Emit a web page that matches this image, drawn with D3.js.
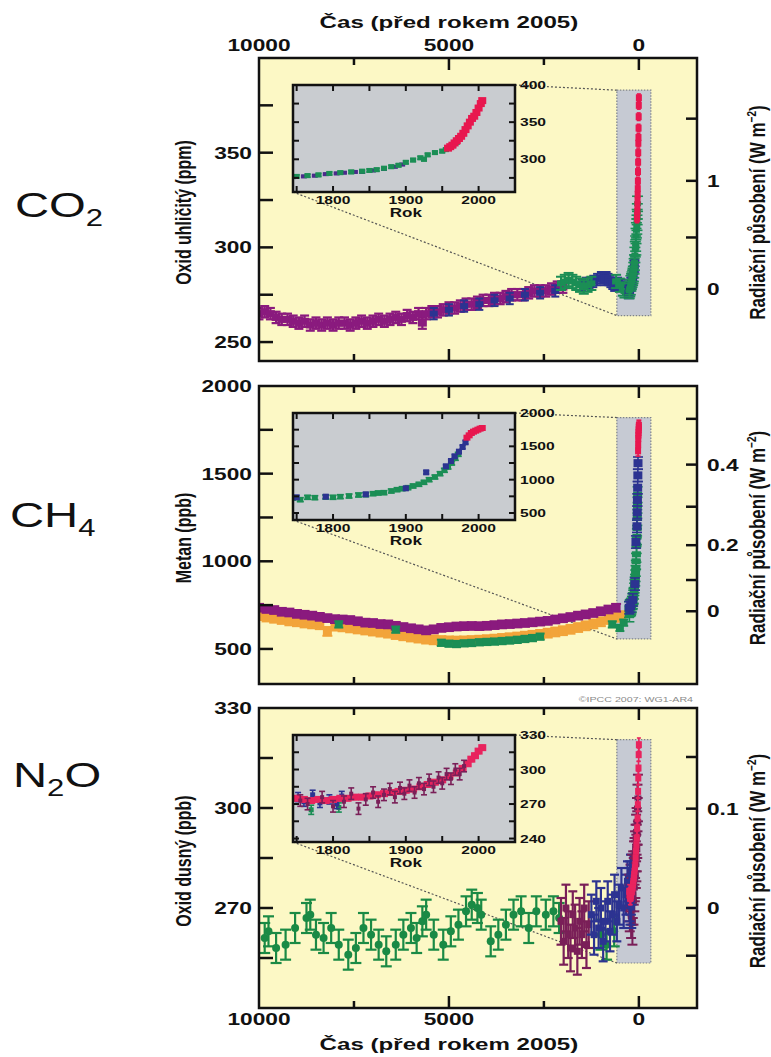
<!DOCTYPE html>
<html>
<head>
<meta charset="utf-8">
<script src="https://cdn.jsdelivr.net/npm/d3@7"></script>
<style>
  body { margin: 0; background: #fff; }
  svg text { font-family: "Liberation Sans", Arial, sans-serif; fill: #111; }
</style>
</head>
<body>
<svg id="chart" width="771" height="1057"></svg>
<script>
// values (years before 2005 for the big panels, calendar years for the insets)

const mainYearTicks = [10000, 7500, 5000, 2500, 0];
const mainYearLabels = [10000, 5000, 0];
const insetYearTicks = [1750, 1800, 1850, 1900, 1950, 2000];
const insetYearLabels = [1800, 1900, 2000];

// CO2 (ppm)
const co2Ticks = [250, 275, 300, 325, 350, 375];
const co2Labels = [250, 300, 350];
const co2ForcingTicks = [0, 0.5, 1, 1.5];
const co2ForcingLabels = [0, 1];
const co2InsetTicks = [275, 300, 325, 350, 375, 400];
const co2InsetLabels = [300, 350, 400];

const co2Purple = [[10000,265],[9850,266],[9700,265],[9550,263],[9400,262],[9250,262],[9100,261],[8950,260],[8800,261],[8650,259],[8500,260],[8350,259],[8200,260],[8050,259],[7900,260],[7750,260],[7600,259],[7450,260],[7300,261],[7150,260],[7000,261],[6850,262],[6700,261],[6550,262],[6400,263],[6250,262],[6100,264],[5950,263],[5800,265],[5700,260],[5600,265],[5450,266],[5300,266],[5150,267],[5000,268],[4850,268],[4700,269],[4550,270],[4400,270],[4250,271],[4100,272],[3950,272],[3800,273],[3650,273],[3500,274],[3350,275],[3200,275],[3050,275],[2900,276],[2750,277],[2600,277],[2450,277],[2300,278],[2150,279],[2000,279]];
const co2Blue = [[5400,265],[5000,267],[4600,269],[4200,270],[3800,272],[3400,273],[3000,275],[2600,276],[2200,277],[1500,280],[1400,281],[1300,281],[1200,282],[1100,283],[1000,284],[950,284],[900,283],[850,284],[800,283],[750,282],[700,281],[650,280],[550,281],[450,280],[350,279],[300,278],[250,277]];
const co2Green = [[2050,281],[1950,282],[1850,283],[1750,282],[1650,281],[1550,280],[1450,279],[1350,280],[1250,281],[600,282],[500,280],[420,278],[380,277]];

const co2InsetPurple = [[1745,276],[1760,277],[1775,278],[1790,280],[1805,281],[1815,282],[1830,283],[1840,283],[1855,285],[1870,287],[1885,290],[1895,293]];
const co2InsetGreen = [[1750,277],[1765,278],[1780,279],[1795,281],[1810,282],[1825,283],[1840,284],[1850,285],[1860,286],[1870,288],[1880,290],[1890,292],[1900,296],[1910,299],[1920,302],[1925,300],[1930,306],[1940,309],[1950,311],[1955,313],[1960,316],[1965,319],[1970,323]];
const co2InsetRed = [[1958,315],[1961,317],[1964,319],[1967,322],[1970,325],[1973,328],[1976,331],[1979,335],[1982,340],[1985,345],[1988,350],[1991,355],[1994,358],[1997,363],[2000,369],[2003,375],[2005,379]];

// CH4 (ppb)
const ch4Ticks = [500, 750, 1000, 1250, 1500, 1750, 2000];
const ch4Labels = [500, 1000, 1500, 2000];
const ch4ForcingTicks = [0, 0.1, 0.2, 0.3, 0.4, 0.5];
const ch4ForcingLabels = [0, 0.2, 0.4];
const ch4InsetTicks = [500, 750, 1000, 1250, 1500, 1750, 2000];
const ch4InsetLabels = [500, 1000, 1500, 2000];

const ch4Purple = [[10000,735],[9800,728],[9600,722],[9400,712],[9200,708],[9000,700],[8800,695],[8600,690],[8400,683],[8200,676],[8000,670],[7800,668],[7600,665],[7400,658],[7200,650],[7000,648],[6800,642],[6600,640],[6400,632],[6200,625],[6000,618],[5800,612],[5600,606],[5400,612],[5200,620],[5000,624],[4800,628],[4600,630],[4400,631],[4200,630],[4000,632],[3800,636],[3600,640],[3400,642],[3200,645],[3000,648],[2800,652],[2600,656],[2400,660],[2200,668],[2000,675],[1800,682],[1600,690],[1400,697],[1200,705],[1000,715],[800,725],[600,735]];
const ch4Orange = [[10000,690],[9800,682],[9600,675],[9400,668],[9200,660],[9000,655],[8800,648],[8600,643],[8400,638],[8200,600],[8000,630],[7800,626],[7600,620],[7400,614],[7200,608],[7000,602],[6800,596],[6600,590],[6400,582],[6200,575],[6000,568],[5800,562],[5600,556],[5400,552],[5200,548],[5000,546],[4800,545],[4600,546],[4400,548],[4200,550],[4000,553],[3800,556],[3600,560],[3400,564],[3200,568],[3000,573],[2800,578],[2600,583],[2400,590],[2200,597],[2000,604],[1800,612],[1600,622],[1400,632],[1200,643],[1000,655],[800,668],[600,680],[450,690]];
const ch4Green = [[7900,640],[6400,610],[5200,535],[5000,530],[4800,528],[4600,532],[4400,534],[4200,538],[4000,540],[3800,542],[3600,545],[3400,548],[3200,552],[3000,557],[2800,562],[2600,570],[700,640],[500,620],[400,650]];

const ch4InsetGreen = [[1745,725],[1755,700],[1765,735],[1775,730],[1790,740],[1800,735],[1810,745],[1822,755],[1835,770],[1845,775],[1855,790],[1862,800],[1870,805],[1880,830],[1888,850],[1895,865],[1903,880],[1910,905],[1918,930],[1925,960],[1932,1000],[1940,1040],[1947,1090],[1953,1140],[1958,1190],[1963,1250],[1968,1320],[1972,1380]];
const ch4InsetBlue = [[1750,735],[1790,745],[1845,780],[1900,870],[1928,1110],[1955,1200],[1962,1280],[1967,1350],[1973,1420],[1978,1490],[1982,1560]];
const ch4InsetRed = [[1984,1630],[1987,1665],[1990,1700],[1993,1720],[1996,1735],[1999,1750],[2002,1765],[2005,1775]];

// N2O (ppb)
const n2oTicks = [255, 270, 285, 300, 315, 330];
const n2oLabels = [270, 300, 330];
const n2oForcingTicks = [-0.05, 0, 0.05, 0.1, 0.15];
const n2oForcingLabels = [0, 0.1];
const n2oInsetTicks = [240, 255, 270, 285, 300, 315, 330];
const n2oInsetLabels = [240, 270, 300, 330];

const n2oGreen = [[9850,261],[9750,263],[9550,258],[9300,259],[9050,264],[8750,267],[8650,268],[8500,262],[8300,261],[8100,264],[7900,259],[7650,256],[7450,258],[7250,264],[7050,262],[6850,259],[6650,257],[6400,259],[6200,262],[6000,264],[5850,261],[5700,266],[5600,268],[5400,262],[5150,259],[4950,263],[4750,265],[4550,269],[4400,271],[4250,270],[4150,268],[3900,260],[3700,262],[3500,265],[3300,268],[3100,269],[2900,264],[2700,269],[2450,268],[2250,269],[2100,267],[1000,262],[850,259],[650,263]];
const n2oMaroon = [[2050,266],[1980,260],[1920,270],[1860,262],[1800,258],[1740,268],[1680,264],[1620,257],[1560,266],[1500,262],[1440,270],[1380,259],[1320,265]];
const n2oBlue = [[1250,268],[1180,262],[1120,272],[1060,264],[1000,270],[940,260],[880,266],[820,272],[760,263],[700,268],[640,274],[580,266],[520,271],[460,276],[400,270],[340,274],[300,278],[260,276],[220,280]];

const n2oInsetRed = [[1750,275],[1760,274],[1770,273],[1780,274],[1790,273],[1800,274],[1810,275],[1820,275],[1830,276],[1840,276],[1850,277],[1860,278],[1870,279],[1880,280],[1890,281],[1900,282],[1910,283],[1920,285],[1930,287],[1940,289],[1950,291],[1960,294],[1970,297],[1978,301],[1985,305],[1990,309],[1995,312],[2000,316],[2005,319]];
const n2oInsetPurple = [[1755,273],[1765,270],[1785,276],[1800,268],[1815,272],[1825,279],[1835,266],[1845,274],[1855,280],[1862,272],[1870,278],[1878,283],[1885,276],[1892,284],[1898,279],[1905,286],[1912,280],[1918,288],[1925,283],[1932,291],[1938,285],[1945,293],[1950,288],[1956,296],[1962,292],[1968,300],[1974,296],[1980,303]];
const n2oInsetBlue = [[1752,276],[1760,272],[1772,278],[1782,271],[1795,274],[1805,270],[1812,277]];
const n2oInsetGreen = [[1770,265],[1808,267]];

// radiative forcing formulas, only used to place the right hand ticks
const overlap = (M, N) => 0.47 * Math.log(1 + 2.01e-5 * Math.pow(M * N, 0.75) + 5.31e-15 * M * Math.pow(M * N, 1.52));
const forcing = {
  co2: c => 5.35 * Math.log(c / 278),
  ch4: m => 0.036 * (Math.sqrt(m) - Math.sqrt(715)) - (overlap(m, 270) - overlap(715, 270)),
  n2o: n => 0.12 * (Math.sqrt(n) - Math.sqrt(270)) - (overlap(715, n) - overlap(715, 270))
};
function invert(fn, target, lo, hi) {
  for (let i = 0; i < 60; i++) {
    const mid = (lo + hi) / 2;
    if (fn(mid) < target) lo = mid; else hi = mid;
  }
  return (lo + hi) / 2;
}

// colours
const C = {
  purple: '#8a1a7e', blue: '#2c3391', green: '#1b8e55', red: '#e8174f',
  orange: '#f2a43a', maroon: '#7a1f58', indigo: '#4b2a8c', pink: '#e8235e', dgreen: '#1a8a45'
};

// ---- layout ----
const svg = d3.select('#chart');
const SX = 1.42;   // the source picture is stretched sideways, text too
const left = 259, right = 697;
const insetL = 293, insetR = 515;

const xMain = d3.scaleLinear().domain([10000, -1530]).range([left, right]);
const xInset = d3.scaleLinear().domain([1745, 2050]).range([insetL, insetR]);
const boxYears = [580, -315];

const panels = [
  {
    key: 'co2', top: 58, bottom: 361, domain: [240, 400], ticks: co2Ticks, labels: co2Labels,
    fTicks: co2ForcingTicks, fLabels: co2ForcingLabels, title: 'Oxid uhličitý (ppm)',
    formula: ['CO', '2', ''], fx: 15, fy: 217,
    insetDomain: [256, 400], insetTicks: co2InsetTicks, insetLabels: co2InsetLabels, box: [264, 383],
    main: [
      { data: co2Purple, st: { color: C.purple, err: 3, cap: 9, w: 9, h: 7, sw: 2.2 } },
      { data: co2Blue, st: { color: C.blue, err: 3, cap: 8, w: 8, h: 6, sw: 2 } },
      { data: co2Green, st: { color: C.green, err: 3.5, cap: 10, w: 8, h: 6, sw: 2 } }
    ],
    inset: [
      { data: co2InsetPurple, st: { color: C.indigo, err: 1.2, cap: 5, w: 6, h: 4 } },
      { data: co2InsetGreen, st: { color: C.green, err: 2, cap: 6, w: 6, h: 5 } },
      { data: co2InsetRed, st: { color: C.red, err: 2, cap: 5, w: 8, h: 7 } }
    ],
    spike: [
      { data: co2InsetPurple, st: { color: C.blue, err: 3, cap: 10, w: 9, h: 6 } },
      { data: co2InsetGreen, st: { color: C.green, err: 4, cap: 11, w: 7, h: 5 } },
      { data: co2InsetRed, st: { color: C.red, err: 2, cap: 4, w: 6, h: 7 } }
    ]
  },
  {
    key: 'ch4', top: 386, bottom: 684, domain: [300, 2000], ticks: ch4Ticks, labels: ch4Labels,
    fTicks: ch4ForcingTicks, fLabels: ch4ForcingLabels, title: 'Metan (ppb)',
    formula: ['CH', '4', ''], fx: 10, fy: 527,
    insetDomain: [395, 2000], insetTicks: ch4InsetTicks, insetLabels: ch4InsetLabels, box: [557, 1820],
    main: [
      { data: ch4Orange, st: { color: C.orange, err: 25, cap: 10, w: 9, h: 8, sw: 2 } },
      { data: ch4Purple, st: { color: C.purple, err: 22, cap: 10, w: 9, h: 8, sw: 2 } },
      { data: ch4Green, st: { color: C.green, err: 18, cap: 9, w: 8, h: 6, sw: 2 } }
    ],
    inset: [
      { data: ch4InsetGreen, st: { color: C.green, err: 30, cap: 7, w: 6, h: 5 } },
      { data: ch4InsetBlue, st: { color: C.blue, err: 25, cap: 6, w: 6, h: 6 } },
      { data: ch4InsetRed, st: { color: C.red, err: 20, cap: 5, w: 7, h: 6 } }
    ],
    spike: [
      { data: ch4InsetGreen, st: { color: C.green, err: 45, cap: 10, w: 9, h: 6 } },
      { data: ch4InsetBlue, st: { color: C.blue, err: 35, cap: 10, w: 9, h: 8 } },
      { data: ch4InsetRed, st: { color: C.red, err: 30, cap: 5, w: 6, h: 7 } }
    ]
  },
  {
    key: 'n2o', top: 708, bottom: 1008, domain: [240, 330], ticks: n2oTicks, labels: n2oLabels,
    fTicks: n2oForcingTicks, fLabels: n2oForcingLabels, title: 'Oxid dusný (ppb)',
    formula: ['N', '2', 'O'], fx: 13, fy: 787,
    insetDomain: [237, 330], insetTicks: n2oInsetTicks, insetLabels: n2oInsetLabels, box: [253.5, 320.5],
    main: [
      { data: n2oGreen, st: { color: C.dgreen, err: 4.5, cap: 11, shape: 'circle', size: 8, sw: 2.2 } },
      { data: n2oMaroon, st: { color: C.maroon, err: 7, cap: 9, w: 7, h: 7, sw: 2.2 } },
      { data: n2oBlue, st: { color: C.blue, err: 6, cap: 9, w: 7, h: 7, sw: 2.2 } }
    ],
    inset: [
      { data: n2oInsetGreen, st: { color: C.green, err: 4, cap: 6, w: 5, h: 5 } },
      { data: n2oInsetBlue, st: { color: C.blue, err: 4, cap: 6, w: 5, h: 5 } },
      { data: n2oInsetRed, st: { color: C.pink, err: 2, cap: 5, w: 8, h: 7 } },
      { data: n2oInsetPurple, st: { color: C.maroon, err: 5, cap: 6, w: 4, h: 4 } }
    ],
    spike: [
      { data: n2oInsetPurple, st: { color: C.maroon, err: 7, cap: 10, w: 7, h: 5, sw: 2 } },
      { data: n2oInsetBlue, st: { color: C.blue, err: 6, cap: 10, w: 7, h: 5, sw: 2 } },
      { data: n2oInsetRed, st: { color: C.pink, err: 2, cap: 4, w: 6, h: 7 } }
    ]
  }
];

function label(g, x, y, str, size, anchor) {
  return g.append('text')
    .attr('transform', `translate(${x},${y}) scale(${SX},1)`)
    .attr('text-anchor', anchor || 'middle')
    .attr('font-size', size)
    .attr('font-weight', 'bold')
    .text(str);
}

// error bar + marker for every point of a series
function drawPoints(g, data, xOf, y, st) {
  const grp = g.append('g')
    .attr('stroke', st.color).attr('fill', st.color)
    .attr('stroke-width', st.sw || 1.6);
  const e = st.err;
  grp.selectAll('line.v').data(data).join('line').attr('class', 'v')
    .attr('x1', d => xOf(d[0])).attr('x2', d => xOf(d[0]))
    .attr('y1', d => y(d[1] + e)).attr('y2', d => y(d[1] - e));
  [e, -e].forEach((o, i) => {
    grp.selectAll('line.c' + i).data(data).join('line').attr('class', 'c' + i)
      .attr('x1', d => xOf(d[0]) - st.cap / 2).attr('x2', d => xOf(d[0]) + st.cap / 2)
      .attr('y1', d => y(d[1] + o)).attr('y2', d => y(d[1] + o));
  });
  if (st.shape === 'circle') {
    grp.selectAll('circle').data(data).join('circle')
      .attr('cx', d => xOf(d[0])).attr('cy', d => y(d[1]))
      .attr('r', st.size / 2).attr('stroke', 'none');
  } else {
    grp.selectAll('rect').data(data).join('rect')
      .attr('x', d => xOf(d[0]) - st.w / 2).attr('y', d => y(d[1]) - st.h / 2)
      .attr('width', st.w).attr('height', st.h).attr('stroke', 'none');
  }
}

const defs = svg.append('defs');

panels.forEach((p, pi) => {
  const y = d3.scaleLinear().domain(p.domain).range([p.bottom, p.top]);
  const g = svg.append('g');

  defs.append('clipPath').attr('id', 'clip' + pi)
    .append('rect').attr('x', left).attr('y', p.top).attr('width', right - left).attr('height', p.bottom - p.top);

  g.append('rect').attr('x', left).attr('y', p.top)
    .attr('width', right - left).attr('height', p.bottom - p.top)
    .attr('fill', '#fcf8c5');

  const plot = g.append('g').attr('clip-path', `url(#clip${pi})`);

  // grey zoom box around the last centuries
  const bx0 = xMain(boxYears[0]), bx1 = xMain(boxYears[1]);
  const by0 = y(p.box[1]), by1 = y(p.box[0]);
  plot.append('rect').attr('x', bx0).attr('y', by0)
    .attr('width', bx1 - bx0).attr('height', by1 - by0)
    .attr('fill', '#c6cad3').attr('stroke', '#7d828c')
    .attr('stroke-width', 1.2).attr('stroke-dasharray', '1.5,1.5');

  // inset geometry
  const iTop = p.top + 27, iBot = iTop + 107;
  const yIn = d3.scaleLinear().domain(p.insetDomain).range([iBot, iTop]);

  // dotted connectors
  plot.append('line').attr('x1', insetR).attr('y1', iTop).attr('x2', bx0).attr('y2', by0)
    .attr('stroke', '#555').attr('stroke-width', 1.2).attr('stroke-dasharray', '2,2');
  plot.append('line').attr('x1', insetL).attr('y1', iBot).attr('x2', bx0).attr('y2', by1)
    .attr('stroke', '#555').attr('stroke-width', 1.2).attr('stroke-dasharray', '2,2');

  // main series
  p.main.forEach(s => drawPoints(plot, s.data, d => xMain(d), y, s.st));
  p.spike.forEach(s => drawPoints(plot, s.data, d => xMain(2005 - d), y, s.st));

  // inset
  const ig = g.append('g');
  defs.append('clipPath').attr('id', 'iclip' + pi)
    .append('rect').attr('x', insetL).attr('y', iTop).attr('width', insetR - insetL).attr('height', iBot - iTop);
  ig.append('rect').attr('x', insetL).attr('y', iTop)
    .attr('width', insetR - insetL).attr('height', iBot - iTop).attr('fill', '#c9ccd0');
  const iplot = ig.append('g').attr('clip-path', `url(#iclip${pi})`);
  p.inset.forEach(s => drawPoints(iplot, s.data, d => xInset(d), yIn, s.st));

  const it = ig.append('g').attr('stroke', '#111').attr('stroke-width', 2);
  insetYearTicks.forEach(t => {
    const xx = xInset(t);
    it.append('line').attr('x1', xx).attr('x2', xx).attr('y1', iTop).attr('y2', iTop + 6);
    it.append('line').attr('x1', xx).attr('x2', xx).attr('y1', iBot).attr('y2', iBot - 6);
  });
  p.insetTicks.forEach(t => {
    const yy = yIn(t);
    if (yy < iTop + 2 || yy > iBot - 2) return;
    it.append('line').attr('x1', insetL).attr('x2', insetL + 6).attr('y1', yy).attr('y2', yy);
    it.append('line').attr('x1', insetR).attr('x2', insetR - 6).attr('y1', yy).attr('y2', yy);
  });
  ig.append('rect').attr('x', insetL).attr('y', iTop)
    .attr('width', insetR - insetL).attr('height', iBot - iTop)
    .attr('fill', 'none').attr('stroke', '#111').attr('stroke-width', 2.5);
  insetYearLabels.forEach(t => label(ig, xInset(t), iBot + 12, t, 11));
  label(ig, xInset(1900), iBot + 25, 'Rok', 12);
  p.insetLabels.forEach(t => label(ig, insetR + 5, yIn(t) + 4, t, 11, 'start'));

  // frame and ticks
  g.append('rect').attr('x', left).attr('y', p.top)
    .attr('width', right - left).attr('height', p.bottom - p.top)
    .attr('fill', 'none').attr('stroke', '#111').attr('stroke-width', 2.5);
  const tk = g.append('g').attr('stroke', '#111').attr('stroke-width', 2.5);
  mainYearTicks.forEach(t => {
    const xx = xMain(t);
    if (xx < left + 2) return;
    const len = mainYearLabels.includes(t) ? 12 : 7;
    tk.append('line').attr('x1', xx).attr('x2', xx).attr('y1', p.top).attr('y2', p.top + len);
    tk.append('line').attr('x1', xx).attr('x2', xx).attr('y1', p.bottom).attr('y2', p.bottom - len);
  });
  p.ticks.forEach(t => {
    const yy = y(t);
    if (yy < p.top + 2) return;
    tk.append('line').attr('x1', left).attr('x2', left + 14).attr('y1', yy).attr('y2', yy);
  });
  p.labels.forEach(t => label(g, 252, y(t) + 6, t, 16, 'end'));

  p.fTicks.forEach(f => {
    const yy = y(invert(forcing[p.key], f, p.domain[0] * 0.5, p.domain[1] * 1.5));
    tk.append('line').attr('x1', right).attr('x2', right - 11).attr('y1', yy).attr('y2', yy);
  });
  p.fLabels.forEach(f => {
    const yy = y(invert(forcing[p.key], f, p.domain[0] * 0.5, p.domain[1] * 1.5));
    label(g, 707, yy + 6, f, 16, 'start');
  });

  // axis titles
  const yc = (p.top + p.bottom) / 2 + 3;
  g.append('text')
    .attr('transform', `translate(191,${yc}) scale(${SX},1) rotate(-90)`)
    .attr('text-anchor', 'middle').attr('font-size', 16).attr('font-weight', 'bold')
    .text(p.title);
  const rt = g.append('text')
    .attr('transform', `translate(765,${yc}) scale(1.3,1) rotate(-90)`)
    .attr('text-anchor', 'middle').attr('font-size', 17).attr('font-weight', 'bold');
  rt.append('tspan').text('Radiační působení (W m');
  rt.append('tspan').attr('font-size', 10).attr('dy', -7).text('−2');
  rt.append('tspan').attr('dy', 7).text(')');

  // gas formula on the far left
  const ft = svg.append('text')
    .attr('transform', `translate(${p.fx},${p.fy}) scale(1.35,1)`)
    .attr('font-size', 35);
  ft.append('tspan').text(p.formula[0]);
  ft.append('tspan').attr('font-size', 23).attr('dy', 9).text(p.formula[1]);
  if (p.formula[2]) ft.append('tspan').attr('dy', -9).text(p.formula[2]);
});

// year axis labels, top of first panel and bottom of last
mainYearLabels.forEach(t => {
  label(svg, xMain(t), 51, t, 16);
  label(svg, xMain(t), 1025, t, 16);
});
label(svg, xMain(5000), 28, 'Čas (před rokem 2005)', 17);
label(svg, xMain(5000), 1050, 'Čas (před rokem 2005)', 17);

svg.append('text')
  .attr('transform', `translate(693,702) scale(${SX},1)`)
  .attr('text-anchor', 'end').attr('font-size', 7.5)
  .style('fill', '#8a8a8a')
  .text('©IPCC 2007: WG1-AR4');
</script>
</body>
</html>
